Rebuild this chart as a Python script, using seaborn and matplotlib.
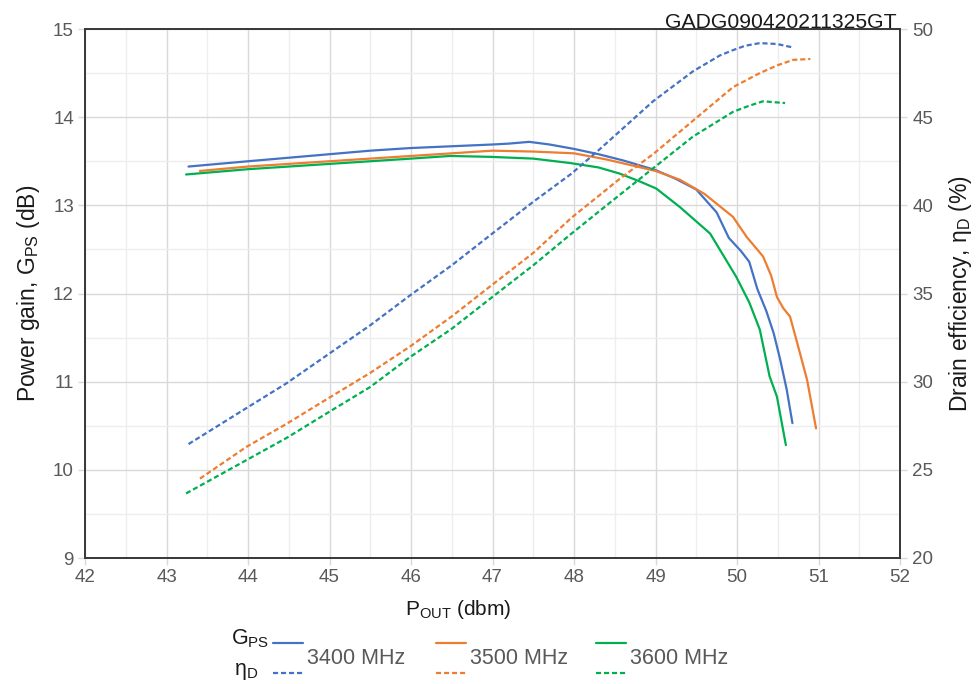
import pandas as pd
import matplotlib
matplotlib.use("Agg")
import matplotlib.pyplot as plt
from matplotlib.lines import Line2D
from matplotlib.ticker import MultipleLocator
import seaborn as sns

# Measured curves, one x array per series (Pout in dBm)
pout_g_3400 = [43.27, 44.0, 45.0, 45.5, 46.0, 46.5, 47.0, 47.2, 47.45, 47.7, 48.0, 48.3,
               48.6, 49.0, 49.25, 49.5, 49.75, 49.9, 50.05, 50.15, 50.25, 50.36, 50.45,
               50.53, 50.61, 50.68]
gain_3400 = [13.44, 13.50, 13.58, 13.62, 13.65, 13.67, 13.69, 13.70, 13.72, 13.69, 13.64,
             13.58, 13.51, 13.40, 13.30, 13.18, 12.92, 12.63, 12.48, 12.36, 12.05, 11.80,
             11.55, 11.25, 10.91, 10.53]

pout_g_3500 = [43.41, 44.0, 45.0, 45.5, 46.0, 46.5, 47.0, 47.5, 48.0, 48.4, 48.77, 49.0,
               49.3, 49.6, 49.95, 50.12, 50.32, 50.42, 50.49, 50.57, 50.65, 50.73, 50.86,
               50.97]
gain_3500 = [13.39, 13.44, 13.50, 13.53, 13.56, 13.59, 13.62, 13.61, 13.59, 13.52, 13.44,
             13.39, 13.29, 13.13, 12.87, 12.64, 12.42, 12.20, 11.96, 11.83, 11.74, 11.47,
             11.02, 10.47]

pout_g_3600 = [43.24, 44.0, 45.0, 45.5, 46.0, 46.48, 46.97, 47.5, 47.95, 48.3, 48.56,
               48.81, 49.01, 49.3, 49.67, 49.99, 50.15, 50.28, 50.4, 50.49, 50.6]
gain_3600 = [13.35, 13.41, 13.47, 13.50, 13.53, 13.56, 13.55, 13.53, 13.48, 13.43, 13.36,
             13.27, 13.19, 12.98, 12.68, 12.19, 11.90, 11.59, 11.06, 10.83, 10.28]

pout_e_3400 = [43.27, 43.98, 44.47, 45.0, 45.5, 45.99, 46.5, 46.97, 47.5, 47.97, 48.32,
               48.97, 49.46, 49.79, 49.95, 50.1, 50.28, 50.49, 50.69]
eff_3400 = [26.46, 28.5, 29.9, 31.6, 33.2, 34.9, 36.6, 38.3, 40.2, 41.8, 43.2, 45.9, 47.6,
            48.5, 48.8, 49.05, 49.2, 49.15, 48.95]

pout_e_3500 = [43.41, 43.98, 44.47, 45.0, 45.5, 45.99, 46.5, 46.97, 47.5, 47.97, 48.32,
               48.56, 48.97, 49.46, 49.95, 50.28, 50.5, 50.69, 50.9]
eff_3500 = [24.5, 26.3, 27.6, 29.1, 30.5, 32.0, 33.7, 35.4, 37.3, 39.3, 40.6, 41.5, 42.9,
            44.8, 46.7, 47.5, 47.95, 48.25, 48.3]

pout_e_3600 = [43.24, 43.98, 44.47, 45.0, 45.5, 45.99, 46.5, 46.97, 47.5, 47.97, 48.4,
               48.97, 49.46, 49.95, 50.15, 50.32, 50.59]
eff_3600 = [23.66, 25.55, 26.8, 28.3, 29.7, 31.4, 33.0, 34.7, 36.6, 38.4, 40.0, 42.1, 43.9,
            45.3, 45.65, 45.9, 45.8]

freqs = ["3400 MHz", "3500 MHz", "3600 MHz"]
colors = {"3400 MHz": "#4472C4", "3500 MHz": "#ED7D31", "3600 MHz": "#00B050"}

gain_df = pd.concat([
    pd.DataFrame({"pout": x, "val": y, "freq": f})
    for x, y, f in zip([pout_g_3400, pout_g_3500, pout_g_3600],
                       [gain_3400, gain_3500, gain_3600], freqs)
])
eff_df = pd.concat([
    pd.DataFrame({"pout": x, "val": y, "freq": f})
    for x, y, f in zip([pout_e_3400, pout_e_3500, pout_e_3600],
                       [eff_3400, eff_3500, eff_3600], freqs)
])

sns.set_theme(style="white")
plt.rcParams["font.family"] = ["Liberation Sans", "DejaVu Sans"]
plt.rcParams["mathtext.default"] = "regular"

TICK_C = "#595959"
LABEL_C = "#1a1a1a"
SPINE_C = "#3a3a3a"
W, H = 978, 684

fig = plt.figure(figsize=(9.78, 6.84), dpi=100)
ax = fig.add_axes([85 / W, 1 - 558 / H, 815 / W, 529 / H])
ax2 = ax.twinx()

sns.lineplot(data=gain_df, x="pout", y="val", hue="freq", palette=colors,
             estimator=None, sort=False, linewidth=1.6, legend=False, ax=ax)
sns.lineplot(data=eff_df, x="pout", y="val", hue="freq", palette=colors,
             estimator=None, sort=False, linewidth=1.6, legend=False, ax=ax2)
for ln in ax2.lines:
    ln.set_dashes([2.3, 1.3])

ax.set_xlim(42, 52)
ax.set_ylim(9, 15)
ax2.set_ylim(20, 50)
ax.xaxis.set_major_locator(MultipleLocator(1))
ax.xaxis.set_minor_locator(MultipleLocator(0.5))
ax.yaxis.set_major_locator(MultipleLocator(1))
ax.yaxis.set_minor_locator(MultipleLocator(0.5))
ax2.yaxis.set_major_locator(MultipleLocator(5))

ax.grid(which="major", color="#d9d9d9", linewidth=1.0)
ax.grid(which="minor", color="#eeeeee", linewidth=1.0)
ax.set_axisbelow(True)

for a in (ax, ax2):
    for sp in a.spines.values():
        sp.set_color(SPINE_C)
        sp.set_linewidth(1.3)
ax.tick_params(which="major", length=5, width=1, color="#d9d9d9",
               labelsize=13.5, labelcolor=TICK_C, pad=3)
ax.tick_params(which="minor", length=0)
ax.tick_params(axis="x", which="major", bottom=True)
ax.tick_params(axis="y", which="major", left=True)
ax2.tick_params(which="major", length=5, width=1, color="#d9d9d9",
                labelsize=13.5, labelcolor=TICK_C, pad=4, right=True)

ax.set_xlabel("P$_{OUT}$ (dbm)", fontsize=15, color=LABEL_C, labelpad=6)
ax.xaxis.set_label_coords((458 - 85) / 815, -0.075)
ax.set_ylabel("Power gain, G$_{PS}$ (dB)", fontsize=16.5, color=LABEL_C, labelpad=8)
ax2.set_ylabel("Drain efficiency, η$_{D}$ (%)", fontsize=16.5, color=LABEL_C, labelpad=10)

fig.text(897 / W, 1 - 28 / H, "GADG090420211325GT", ha="right", va="baseline",
         fontsize=15.2, color=LABEL_C)

# custom two-row legend under the plot
fig.text(269 / W, 1 - 644 / H, "G$_{PS}$", ha="right", va="baseline",
         fontsize=15.5, color=LABEL_C)
fig.text(258 / W, 1 - 675 / H, "η$_{D}$", ha="right", va="baseline",
         fontsize=15.5, color=LABEL_C)
leg_x = [273, 436, 596]
for x0, f in zip(leg_x, freqs):
    fig.add_artist(Line2D([x0 / W, (x0 + 30) / W], [1 - 643 / H, 1 - 643 / H],
                          transform=fig.transFigure, color=colors[f], linewidth=1.6))
    fig.add_artist(Line2D([x0 / W, (x0 + 30) / W], [1 - 673 / H, 1 - 673 / H],
                          transform=fig.transFigure, color=colors[f], linewidth=1.6,
                          dashes=[2.3, 1.3]))
    fig.text((x0 + 34) / W, 1 - 659 / H, f, ha="left", va="center",
             fontsize=15.5, color=TICK_C)

fig.savefig("out.png", dpi=100)
plt.close(fig)
